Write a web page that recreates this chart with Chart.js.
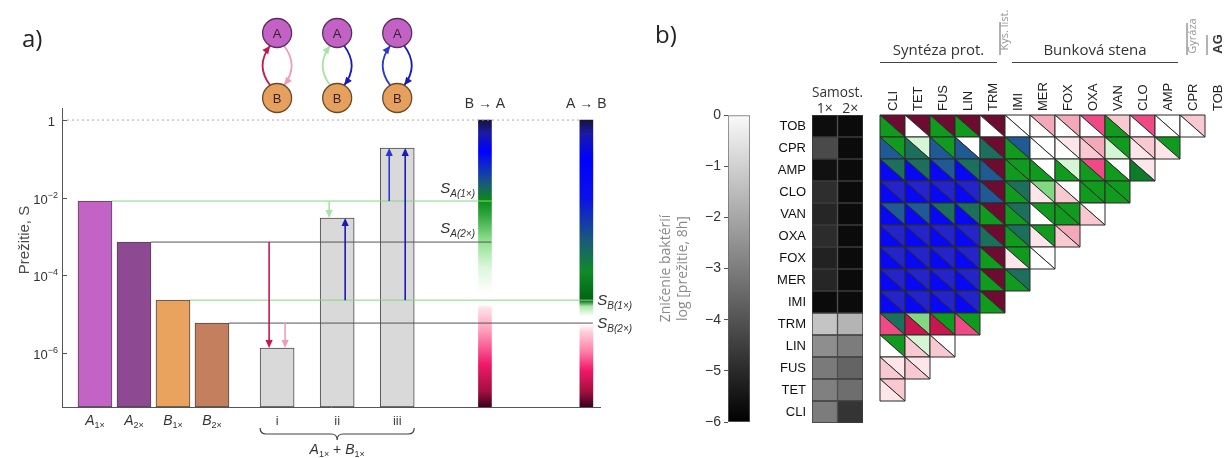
<!DOCTYPE html>
<html>
<head>
<meta charset="utf-8">
<script src="https://cdn.jsdelivr.net/npm/chart.js@4.4.1/dist/chart.umd.min.js"></script>
<style>
  body { margin: 0; background: #fff; }
  #wrap { position: relative; width: 1232px; height: 458px; overflow: hidden; }
  canvas { position: absolute; top: 0; }
</style>
</head>
<body>
<div id="wrap">
  <canvas id="survivalChart" width="645" height="458" style="left:0"></canvas>
  <canvas id="scaleChart" width="112" height="458" style="left:640px"></canvas>
  <canvas id="singleChart" width="105" height="458" style="left:758px"></canvas>
  <canvas id="pairChart" width="362" height="458" style="left:870px"></canvas>
</div>
<script>
// ---------- panel a: survival (log scale) ----------
const strainNames = ['A', 'A', 'B', 'B', 'i', 'ii', 'iii'];
const strainDoses = ['1×', '2×', '1×', '2×', '', '', ''];
const survival = [8.2e-3, 7.2e-4, 2.3e-5, 5.9e-6, 1.35e-6, 3.0e-3, 0.19];
const survivalTicks = [1, 1e-2, 1e-4, 1e-6];
const survivalRange = [Math.pow(10, -7.39), Math.pow(10, 0.31)];
const barColors = ['#c363c5', '#8d4a92', '#e9a35f', '#c37f5e', '#d9d9d9', '#d9d9d9', '#d9d9d9'];

// arrows in the mixed bars: [mixed bar, level it starts from, side, colour]
const mixArrows = [
  [4, 1, -1, '#c8174e'],
  [4, 3, 1, '#f19cb7'],
  [5, 0, -1, '#a6e3a6'],
  [5, 2, 1, '#1a1ab4'],
  [6, 0, -1, '#2a36d6'],
  [6, 2, 1, '#1a1ab4']
];

// colour bars: [log10 survival, colour]
const stopsBA = [
  [0, '#14143c'], [-0.35, '#1a1aa8'], [-0.8, '#0000ff'], [-1.25, '#1030c0'],
  [-1.65, '#1a5a78'], [-2.05, '#0a8a14'], [-2.4, '#2aa23a'], [-3.1, '#8fdf8f'],
  [-3.8, '#dcf7dc'], [-4.45, '#ffffff'], [-4.75, '#ffffff'], [-4.85, '#ffe0e8'],
  [-5.45, '#ff9ab8'], [-6.3, '#f0186a'], [-7.0, '#a0103e'], [-7.39, '#3a0020']
];
const stopsAB = [
  [0, '#14143c'], [-0.35, '#1a1aa8'], [-1.0, '#0000ff'], [-2.0, '#0a10e8'],
  [-3.1, '#1a5a78'], [-3.9, '#108a28'], [-4.64, '#006414'], [-4.8, '#a8e8a8'],
  [-5.05, '#ffffff'], [-5.25, '#ffffff'], [-5.45, '#ffd0dc'], [-5.95, '#ff80a8'],
  [-6.45, '#f0186a'], [-7.0, '#a0103e'], [-7.39, '#3a0020']
];

// ---------- panel b ----------
const drugRows = ['TOB', 'CPR', 'AMP', 'CLO', 'VAN', 'OXA', 'FOX', 'MER', 'IMI', 'TRM', 'LIN', 'FUS', 'TET', 'CLI'];
const drugCols = ['CLI', 'TET', 'FUS', 'LIN', 'TRM', 'IMI', 'MER', 'FOX', 'OXA', 'VAN', 'CLO', 'AMP', 'CPR', 'TOB'];
const singleDoses = ['1×', '2×'];
const kill1x = [-5.7, -4.26, -5.6, -4.92, -5.1, -4.97, -5.2, -5.1, -5.75, -1.39, -2.66, -3.13, -2.98, -3.08];
const kill2x = [-5.75, -5.75, -5.75, -5.75, -5.75, -5.75, -5.75, -5.75, -5.75, -1.76, -3.08, -3.65, -3.41, -4.78];
const killTicks = [0, -1, -2, -3, -4, -5, -6];

// pair cells: upper-right / lower-left triangle, one letter per column
const pairUpper = [
  'MMMMMWPPHpHWp', 'GlGWMSWqPGpG', 'TTSTMGWlHWq', 'DDDDMTLWGG', 'SSTTMTGGW',
  'DDDDMTGP', 'DDDDMGW', 'DDDDMT', 'DDDDM', 'TLGG', 'GlW', 'qq', 'p'
];
const pairLower = [
  'GWGGWWWWWGWWW', 'STSSTGWWplqq', 'BBBBSGGGGGg', 'BBBBSGqpGG', 'BBBBGGWGp',
  'BBBBTGqp', 'BBBBGqW', 'BBBBGG', 'BBBBG', 'HRRH', 'Wpp', 'pp', 'q'
];
const cellPalette = {
  M: '#6d0b30', R: '#c8174e', H: '#ef4a86', P: '#f4a9bb', p: '#f9c9d1', q: '#fde6ea',
  W: '#ffffff', l: '#d4f6d4', L: '#82d982', G: '#109a1e', g: '#0c7c2c',
  T: '#1c6f5a', S: '#1f5a94', D: '#2424c8', B: '#0808f2'
};

const ARIAL = "'Liberation Sans', Arial, sans-serif";
const UI = "'Open Sans', 'Noto Sans', sans-serif";

// x position of a bar slot (mono cultures side by side, mixtures spread out)
const slotX = i => (i < 4 ? i : 4.67 + (i - 4) * 1.54);
const BAR_BA = 10, BAR_AB = 12.6;

function drawRuns(ctx, runs, x, y, align, color) {
  let total = 0;
  runs.forEach(r => { ctx.font = r.font; r.w = ctx.measureText(r.t).width; total += r.w; });
  let cx = align === 'center' ? x - total / 2 : align === 'right' ? x - total : x;
  ctx.textAlign = 'left';
  ctx.textBaseline = 'alphabetic';
  ctx.fillStyle = color || '#333';
  runs.forEach(r => { ctx.font = r.font; ctx.fillText(r.t, cx, y + (r.dy || 0)); cx += r.w; });
}

function arrowHead(ctx, x, y, dx, dy, size, color) {
  const len = Math.hypot(dx, dy), ux = dx / len, uy = dy / len;
  ctx.beginPath();
  ctx.moveTo(x, y);
  ctx.lineTo(x - ux * size - uy * size * 0.45, y - uy * size + ux * size * 0.45);
  ctx.lineTo(x - ux * size + uy * size * 0.45, y - uy * size - ux * size * 0.45);
  ctx.closePath();
  ctx.fillStyle = color;
  ctx.fill();
}

function curvedArrow(ctx, x0, y0, qx, qy, x1, y1, color) {
  ctx.strokeStyle = color;
  ctx.lineWidth = 1.8;
  ctx.beginPath();
  ctx.moveTo(x0, y0);
  ctx.quadraticCurveTo(qx, qy, x1, y1);
  ctx.stroke();
  arrowHead(ctx, x1, y1, x1 - qx, y1 - qy, 8, color);
}

function colourBarFill(c) {
  const chart = c.chart, ys = chart.scales.y;
  if (!chart.chartArea || !ys) return '#ccc';
  const stops = c.dataIndex === 0 ? stopsBA : stopsAB;
  const top = ys.getPixelForValue(Math.pow(10, stops[0][0]));
  const bot = ys.getPixelForValue(Math.pow(10, stops[stops.length - 1][0]));
  const g = chart.ctx.createLinearGradient(0, top, 0, bot);
  stops.forEach(([l, col]) => {
    const f = (ys.getPixelForValue(Math.pow(10, l)) - top) / (bot - top);
    g.addColorStop(Math.min(1, Math.max(0, f)), col);
  });
  return g;
}

const survivalDecor = {
  id: 'survivalDecor',
  afterDatasetsDraw(chart) {
    const {ctx, scales: {x, y}} = chart;
    ctx.save();
    mixArrows.forEach(([bar, from, side, color]) => {
      const px = x.getPixelForValue(slotX(bar)) + side * 8;
      const y0 = y.getPixelForValue(survival[from]);
      const y1 = y.getPixelForValue(survival[bar]);
      const dir = Math.sign(y1 - y0);
      ctx.strokeStyle = color;
      ctx.lineWidth = 1.6;
      ctx.beginPath();
      ctx.moveTo(px, y0);
      ctx.lineTo(px, y1 - dir * 6);
      ctx.stroke();
      arrowHead(ctx, px, y1, 0, dir, 8, color);
    });
    ctx.restore();
  },
  afterDraw(chart) {
    const {ctx, scales: {x, y}, chartArea} = chart;
    ctx.save();
    // panel label
    ctx.fillStyle = '#222';
    ctx.font = '24px ' + UI;
    ctx.textBaseline = 'middle';
    ctx.fillText('a)', 22, 40);

    // y ticks (inward) and labels
    ctx.strokeStyle = '#555';
    ctx.lineWidth = 1;
    survivalTicks.forEach(t => {
      const py = Math.round(y.getPixelForValue(t)) + 0.5;
      ctx.beginPath();
      ctx.moveTo(chartArea.left, py);
      ctx.lineTo(chartArea.left + 5, py);
      ctx.stroke();
      if (t === 1) {
        drawRuns(ctx, [{t: '1', font: '13px ' + ARIAL}], 55, py + 5, 'right', '#333');
      } else {
        const e = Math.round(Math.log10(t));
        drawRuns(ctx, [{t: '10', font: '13px ' + ARIAL}, {t: '−' + Math.abs(e), font: '9px ' + ARIAL, dy: -6}], 58, py + 5, 'right', '#333');
      }
    });

    // y title
    ctx.save();
    ctx.translate(25, 240);
    ctx.rotate(-Math.PI / 2);
    ctx.font = '15px ' + ARIAL;
    ctx.fillStyle = '#4a4a4a';
    ctx.textAlign = 'center';
    ctx.textBaseline = 'middle';
    ctx.fillText('Prežitie, S', 0, 0);
    ctx.restore();

    // x labels
    strainNames.forEach((n, i) => {
      const px = x.getPixelForValue(slotX(i));
      if (strainDoses[i]) {
        drawRuns(ctx, [{t: n, font: 'italic 14px ' + ARIAL}, {t: strainDoses[i], font: '9px ' + ARIAL, dy: 3}], px, 425, 'center', '#333');
      } else {
        drawRuns(ctx, [{t: n, font: '13px ' + ARIAL}], px, 425, 'center', '#444');
      }
    });

    // brace under the mixtures
    const xl = x.getPixelForValue(slotX(4)) - 17, xr = x.getPixelForValue(slotX(6)) + 17, xm = (xl + xr) / 2;
    ctx.strokeStyle = '#444';
    ctx.lineWidth = 1.2;
    ctx.beginPath();
    ctx.moveTo(xl, 428);
    ctx.quadraticCurveTo(xl, 434, xl + 6, 434);
    ctx.lineTo(xm - 6, 434);
    ctx.quadraticCurveTo(xm, 434, xm, 440);
    ctx.quadraticCurveTo(xm, 434, xm + 6, 434);
    ctx.lineTo(xr - 6, 434);
    ctx.quadraticCurveTo(xr, 434, xr, 428);
    ctx.stroke();
    drawRuns(ctx, [
      {t: 'A', font: 'italic 14px ' + ARIAL}, {t: '1×', font: '9px ' + ARIAL, dy: 3},
      {t: ' + ', font: '14px ' + ARIAL},
      {t: 'B', font: 'italic 14px ' + ARIAL}, {t: '1×', font: '9px ' + ARIAL, dy: 3}
    ], xm, 454, 'center', '#333');

    // interaction diagrams above the mixtures
    const yA = 33, yB = 98, r = 14.5;
    for (let k = 0; k < 3; k++) {
      const cx = x.getPixelForValue(slotX(4 + k));
      const mid = (yA + yB) / 2;
      curvedArrow(ctx, cx - 7, yB - 12.7, cx - 22, mid, cx - 7, yA + 12.7, mixArrows[2 * k][3]);
      curvedArrow(ctx, cx + 7, yA + 12.7, cx + 22, mid, cx + 7, yB - 12.7, mixArrows[2 * k + 1][3]);
      [[yA, '#c262c4', '#5a2e5c', 'A'], [yB, '#e5a05e', '#6a4a2a', 'B']].forEach(([cy, fill, edge, t]) => {
        ctx.beginPath();
        ctx.arc(cx, cy, r, 0, Math.PI * 2);
        ctx.fillStyle = fill;
        ctx.fill();
        ctx.strokeStyle = edge;
        ctx.lineWidth = 1.3;
        ctx.stroke();
        ctx.fillStyle = '#3a2030';
        ctx.font = '13px ' + ARIAL;
        ctx.textAlign = 'center';
        ctx.textBaseline = 'middle';
        ctx.fillText(t, cx, cy + 1);
      });
    }

    // colour bar titles
    const bx1 = x.getPixelForValue(BAR_BA), bx2 = x.getPixelForValue(BAR_AB);
    drawRuns(ctx, [{t: 'B → A', font: '14px ' + ARIAL}], bx1, 108, 'center', '#333');
    drawRuns(ctx, [{t: 'A → B', font: '14px ' + ARIAL}], bx2, 108, 'center', '#333');

    // threshold labels
    const sLab = (sub, xp, yp, align) => drawRuns(ctx, [
      {t: 'S', font: 'italic 15px ' + ARIAL}, {t: sub, font: 'italic 10px ' + ARIAL, dy: 4}
    ], xp, yp, align, '#333');
    sLab('A(1×)', bx1 - 10, y.getPixelForValue(survival[0]) - 8, 'right');
    sLab('A(2×)', bx1 - 10, y.getPixelForValue(survival[1]) - 9, 'right');
    sLab('B(1×)', bx2 + 11, y.getPixelForValue(survival[2]) + 5, 'left');
    sLab('B(2×)', bx2 + 11, y.getPixelForValue(survival[3]) + 5, 'left');
    ctx.restore();
  }
};

const halfBar = 17 / 39, halfColour = 6.5 / 39;
const levelLine = (i, end, color) => ({
  type: 'line',
  data: [{x: slotX(i) + halfBar, y: survival[i]}, {x: end, y: survival[i]}],
  borderColor: color,
  borderWidth: 1,
  pointRadius: 0,
  order: 0
});

new Chart(document.getElementById('survivalChart'), {
  type: 'bar',
  data: {
    datasets: [
      {
        data: survival.map((v, i) => ({x: slotX(i), y: [survivalRange[0], v]})),
        backgroundColor: barColors,
        borderColor: '#4a4a4a',
        borderWidth: 1,
        borderSkipped: false,
        barThickness: 34,
        grouped: false,
        order: 3
      },
      {
        data: [{x: BAR_BA, y: [survivalRange[0], 1]}, {x: BAR_AB, y: [survivalRange[0], 1]}],
        backgroundColor: colourBarFill,
        borderWidth: 0,
        barThickness: 13,
        grouped: false,
        order: 2
      },
      {
        type: 'line',
        data: [{x: -0.846, y: 1}, {x: BAR_AB - halfColour, y: 1}],
        borderColor: '#aaa',
        borderDash: [2, 3],
        borderWidth: 1,
        pointRadius: 0,
        order: 1
      },
      levelLine(0, BAR_BA + halfColour, '#86d686'),
      levelLine(1, BAR_BA + halfColour, '#555'),
      levelLine(2, BAR_AB + halfColour, '#86d686'),
      levelLine(3, BAR_AB + halfColour, '#555')
    ]
  },
  options: {
    responsive: false,
    animation: false,
    layout: {padding: {top: 108, right: 45}},
    plugins: {legend: {display: false}, tooltip: {enabled: false}},
    scales: {
      x: {
        type: 'linear',
        min: -0.846,
        max: 12.95,
        offset: false,
        afterFit(s) { s.height = 51; },
        ticks: {display: false},
        grid: {display: false},
        border: {color: '#555'}
      },
      y: {
        type: 'logarithmic',
        min: survivalRange[0],
        max: survivalRange[1],
        afterFit(s) { s.width = 62; },
        ticks: {display: false},
        grid: {display: false},
        border: {color: '#555'}
      }
    }
  },
  plugins: [survivalDecor]
});

// ---------- panel b: grey scale bar ----------
new Chart(document.getElementById('scaleChart'), {
  type: 'bar',
  data: {
    labels: [''],
    datasets: [{
      data: [[killTicks[killTicks.length - 1], killTicks[0]]],
      backgroundColor(c) {
        const a = c.chart.chartArea;
        if (!a) return '#888';
        const g = c.chart.ctx.createLinearGradient(0, a.top, 0, a.bottom);
        g.addColorStop(0, '#fafafa');
        g.addColorStop(1, '#000000');
        return g;
      },
      borderColor: '#666',
      borderWidth: 1,
      borderSkipped: false,
      barPercentage: 1,
      categoryPercentage: 1
    }]
  },
  options: {
    responsive: false,
    animation: false,
    layout: {padding: {top: 115, bottom: 36, right: 2}},
    plugins: {legend: {display: false}, tooltip: {enabled: false}},
    scales: {
      x: {display: false},
      y: {
        min: -6,
        max: 0,
        afterFit(s) { s.width = 88; },
        afterBuildTicks(s) { s.ticks = killTicks.map(v => ({value: v})); },
        ticks: {
          callback: v => (v === 0 ? '0' : '−' + Math.abs(v)),
          font: {size: 14, family: ARIAL},
          color: '#333',
          padding: 3
        },
        grid: {drawOnChartArea: false, tickLength: 4, color: '#555'},
        border: {display: false},
        title: {
          display: true,
          text: ['Zničenie baktérií', 'log [prežitie, 8h]'],
          color: '#8a8a8a',
          font: {size: 14, family: UI},
          padding: {top: 18}
        }
      }
    }
  },
  plugins: [{
    id: 'panelB',
    afterDraw(chart) {
      const ctx = chart.ctx;
      ctx.save();
      ctx.fillStyle = '#222';
      ctx.font = '24px ' + UI;
      ctx.textBaseline = 'middle';
      ctx.fillText('b)', 15, 36);
      ctx.restore();
    }
  }]
});

// ---------- panel b: single drugs ----------
const killGrey = v => {
  const g = Math.round(255 * (v + 6) / 6);
  return 'rgb(' + g + ',' + g + ',' + g + ')';
};

new Chart(document.getElementById('singleChart'), {
  type: 'bar',
  data: {
    labels: drugRows,
    datasets: [kill1x, kill2x].map((vals, k) => ({
      label: singleDoses[k],
      data: drugRows.map(() => [k, k + 1]),
      backgroundColor: vals.map(killGrey),
      borderColor: '#3c3c3c',
      borderWidth: 1,
      borderSkipped: false,
      barPercentage: 1,
      categoryPercentage: 1,
      grouped: false
    }))
  },
  options: {
    indexAxis: 'y',
    responsive: false,
    animation: false,
    layout: {padding: {bottom: 35}},
    plugins: {legend: {display: false}, tooltip: {enabled: false}},
    scales: {
      x: {
        type: 'linear',
        position: 'top',
        min: 0,
        max: 2,
        afterFit(s) { s.height = 115; },
        afterBuildTicks(s) { s.ticks = singleDoses.map((d, k) => ({value: k + 0.5})); },
        ticks: {callback: v => singleDoses[Math.floor(v)], font: {size: 14, family: UI}, color: '#333', padding: -2},
        grid: {display: false, drawTicks: false},
        border: {display: false},
        title: {display: true, text: 'Samost.', color: '#333', font: {size: 14, family: UI}, padding: {top: 85}}
      },
      y: {
        afterFit(s) { s.width = 54; },
        ticks: {font: {size: 13, family: ARIAL}, color: '#111', padding: 6},
        grid: {display: false, drawTicks: false},
        border: {display: false}
      }
    }
  }
});

// ---------- panel b: drug pairs ----------
const pairCells = [];
pairUpper.forEach((row, r) => {
  row.split('').forEach((u, c) => {
    pairCells.push({x: c + 0.5, y: r + 0.5, upper: u, lower: pairLower[r][c]});
  });
});

function fillTri(ctx, pts, color) {
  ctx.beginPath();
  ctx.moveTo(pts[0][0], pts[0][1]);
  ctx.lineTo(pts[1][0], pts[1][1]);
  ctx.lineTo(pts[2][0], pts[2][1]);
  ctx.closePath();
  ctx.fillStyle = color;
  ctx.fill();
  ctx.stroke();
}

const trianglePlugin = {
  id: 'triangles',
  afterDatasetsDraw(chart) {
    const {ctx, scales: {x, y}} = chart;
    ctx.save();
    ctx.lineWidth = 1;
    ctx.strokeStyle = '#2a2a2a';
    chart.data.datasets[0].data.forEach(p => {
      const x0 = x.getPixelForValue(p.x - 0.5), x1 = x.getPixelForValue(p.x + 0.5);
      const y0 = y.getPixelForValue(p.y - 0.5), y1 = y.getPixelForValue(p.y + 0.5);
      fillTri(ctx, [[x0, y0], [x1, y0], [x1, y1]], cellPalette[p.upper]);
      fillTri(ctx, [[x0, y0], [x0, y1], [x1, y1]], cellPalette[p.lower]);
    });
    ctx.restore();
  }
};

const groupHeaders = {
  id: 'groupHeaders',
  afterDraw(chart) {
    const {ctx, scales: {x}} = chart;
    const px = v => x.getPixelForValue(v);
    ctx.save();
    const rotText = (t, xp, yp, font, color, align) => {
      ctx.save();
      ctx.translate(xp, yp);
      ctx.rotate(-Math.PI / 2);
      ctx.font = font;
      ctx.fillStyle = color;
      ctx.textAlign = align || 'center';
      ctx.textBaseline = 'middle';
      ctx.fillText(t, 0, 0);
      ctx.restore();
    };
    // column names, reading upwards
    x.ticks.forEach(t => rotText(drugCols[Math.floor(t.value)], px(t.value) + 1, 111, '13px ' + ARIAL, '#222', 'left'));

    const hline = (a, b) => {
      ctx.strokeStyle = '#444';
      ctx.lineWidth = 1;
      ctx.beginPath();
      ctx.moveTo(a, 62.5);
      ctx.lineTo(b, 62.5);
      ctx.stroke();
    };
    const vline = (xp, top) => {
      ctx.strokeStyle = '#666';
      ctx.lineWidth = 1;
      ctx.beginPath();
      ctx.moveTo(xp, top);
      ctx.lineTo(xp, 55);
      ctx.stroke();
    };
    ctx.font = '15px ' + UI;
    ctx.fillStyle = '#333';
    ctx.textAlign = 'center';
    ctx.textBaseline = 'middle';
    ctx.fillText('Syntéza prot.', (px(0) + px(4.68)) / 2, 51);
    hline(px(0), px(4.68));
    ctx.fillText('Bunková stena', (px(5.28) + px(11.92)) / 2, 51);
    hline(px(5.28), px(11.92));
    vline(px(4.8), 22);
    rotText('Kys. list.', px(4.98), 30, '11px ' + UI, '#999');
    vline(px(12.28), 23);
    rotText('Gyráza', px(12.52), 36, '11px ' + UI, '#999');
    vline(px(13.08), 35);
    rotText('AG', px(13.52), 44, 'bold 13px ' + ARIAL, '#333');
    ctx.restore();
  }
};

new Chart(document.getElementById('pairChart'), {
  type: 'scatter',
  data: {datasets: [{data: pairCells, pointRadius: 0}]},
  options: {
    responsive: false,
    animation: false,
    layout: {padding: {left: 10, right: 2, bottom: 35}},
    plugins: {legend: {display: false}, tooltip: {enabled: false}},
    scales: {
      x: {
        type: 'linear',
        position: 'top',
        min: 0,
        max: drugCols.length,
        afterFit(s) { s.height = 115; },
        afterBuildTicks(s) { s.ticks = drugCols.map((c, i) => ({value: i + 0.5})); },
        ticks: {display: false},
        grid: {display: false, drawTicks: false},
        border: {display: false}
      },
      y: {type: 'linear', min: 0, max: drugRows.length, reverse: true, display: false}
    }
  },
  plugins: [trianglePlugin, groupHeaders]
});
</script>
</body>
</html>
